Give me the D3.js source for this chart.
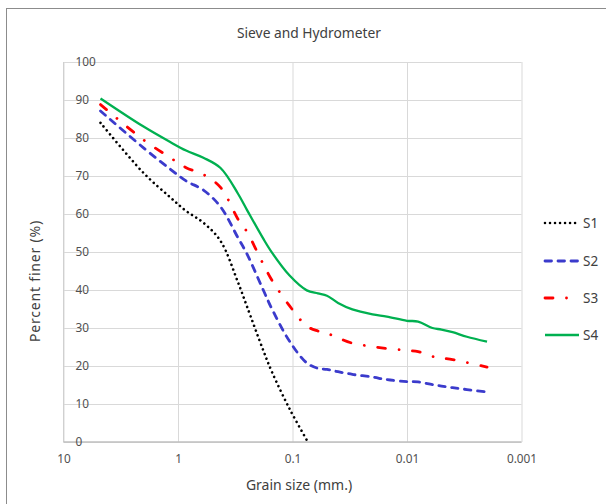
<!DOCTYPE html>
<html>
<head>
<meta charset="utf-8">
<script src="https://cdn.jsdelivr.net/npm/d3@7"></script>
<style>
  body { margin: 0; background: #fff; }
  svg { display: block; font-family: "Noto Sans", sans-serif; }
</style>
</head>
<body>
<svg width="606" height="504"></svg>
<script>
// grain sizes (mm)
const sieveSizes = [4.75, 2.0, 1.18, 0.85, 0.6, 0.425, 0.3, 0.25, 0.18, 0.15, 0.106, 0.075];
const hydroSizes = [0.06, 0.05, 0.04, 0.03, 0.02, 0.015, 0.01, 0.008, 0.006, 0.005, 0.004, 0.003, 0.002];

// percent finer
const s1 = [84.0, 70.8, 64.5, 60.8, 57.7, 52.9, 42.1, 35.7, 24.1, 18.2, 8.7, 0.5];
const s2 = [87.1, 77.4, 71.9, 68.7, 66.3, 61.9, 53.8, 49.5, 40.0, 34.8, 26.5, 20.8,
            19.4, 19.1, 18.5, 17.8, 17.1, 16.4, 15.9, 15.8, 15.1, 14.7, 14.3, 13.8, 13.2];
const s3 = [88.8, 79.5, 74.9, 72.2, 70.4, 67.0, 58.7, 55.3, 46.8, 42.4, 35.8, 30.5,
            29.2, 28.6, 27.4, 26.0, 25.1, 24.6, 24.1, 23.8, 22.5, 22.1, 21.7, 20.9, 19.7];
const s4 = [90.4, 83.0, 79.0, 76.7, 74.8, 72.1, 65.4, 61.1, 53.5, 49.7, 43.8, 39.9,
            39.1, 38.5, 36.6, 34.9, 33.6, 33.0, 31.9, 31.7, 30.0, 29.6, 28.9, 27.7, 26.4];

const seriesNames = ["S1", "S2", "S3", "S4"];
const xTicks = [10, 1, 0.1, 0.01, 0.001];
const xTickLabels = ["10", "1", "0.1", "0.01", "0.001"];
const yTicks = [0, 10, 20, 30, 40, 50, 60, 70, 80, 90, 100];

const svg = d3.select("svg");

// outer chart frame (cut off at right / bottom)
svg.append("rect")
    .attr("x", 6.5).attr("y", 8.5)
    .attr("width", 620).attr("height", 520)
    .attr("fill", "none")
    .attr("stroke", "#8c8c8c")
    .attr("stroke-width", 1);

const plotLeft = 63.5, plotRight = 521.5, plotTop = 62, plotBottom = 442;

let x = d3.scaleLog().domain([10, 0.001]).range([plotLeft, plotRight]);
let y = d3.scaleLinear().domain([0, 100]).range([plotBottom, plotTop]);

// gridlines
svg.append("g")
    .attr("class", "grid")
    .attr("transform", "translate(0," + plotBottom + ")")
    .call(d3.axisBottom(x).tickValues(xTicks).tickSize(-(plotBottom - plotTop)).tickFormat(""))
    .call(g => g.select(".domain").remove())
    .selectAll("line").attr("stroke", "#d9d9d9");

svg.append("g")
    .attr("class", "grid")
    .attr("transform", "translate(" + plotLeft + ",0)")
    .call(d3.axisLeft(y).tickValues(yTicks).tickSize(-(plotRight - plotLeft)).tickFormat(""))
    .call(g => g.select(".domain").remove())
    .selectAll("line").attr("stroke", "#d9d9d9");

// left axis line
svg.append("line")
    .attr("x1", plotLeft).attr("x2", plotLeft)
    .attr("y1", plotTop).attr("y2", plotBottom)
    .attr("stroke", "#d0d0d0");

// bottom axis line
svg.append("line")
    .attr("x1", plotLeft).attr("x2", plotRight)
    .attr("y1", plotBottom).attr("y2", plotBottom)
    .attr("stroke", "#bfbfbf")
    .attr("stroke-width", 1.5);

// x tick labels
svg.append("g")
    .attr("transform", "translate(0," + plotBottom + ")")
    .call(d3.axisBottom(x).tickValues(xTicks).tickSize(0).tickPadding(13)
        .tickFormat((d, i) => xTickLabels[i]))
    .call(g => g.select(".domain").remove())
    .selectAll("text")
    .attr("fill", "#505050")
    .style("font-size", "11.8px")
    .style("font-family", "'Noto Sans', sans-serif");

// y tick labels (sit inside the plot, left aligned)
svg.append("g")
    .attr("transform", "translate(" + plotLeft + ",0)")
    .call(d3.axisRight(y).tickValues(yTicks).tickSize(0).tickPadding(12))
    .call(g => g.select(".domain").remove())
    .selectAll("text")
    .attr("fill", "#505050")
    .style("font-size", "11.8px")
    .style("font-family", "'Noto Sans', sans-serif");

// series
const allSizes = sieveSizes.concat(hydroSizes);
const seriesData = [
    d3.zip(sieveSizes, s1),
    d3.zip(allSizes, s2),
    d3.zip(allSizes, s3),
    d3.zip(allSizes, s4)
];
const colors = ["#000000", "#3b3bcc", "#ff0000", "#00b050"];
const dashes = ["0.01 5", "6.5 6.5", "8 13.5 0.01 13.5", null];
const widths = [2.6, 2.8, 2.8, 2.3];

const line = d3.line()
    .x(d => x(d[0]))
    .y(d => y(d[1]))
    .curve(d3.curveCatmullRom);

svg.selectAll(".series")
    .data(seriesData)
    .enter().append("path")
    .attr("class", "series")
    .attr("fill", "none")
    .attr("d", line)
    .attr("stroke", (d, i) => colors[i])
    .attr("stroke-width", (d, i) => widths[i])
    .attr("stroke-dasharray", (d, i) => dashes[i])
    .attr("stroke-linecap", (d, i) => i === 3 ? "butt" : "round");

// legend
const legendY = [223, 261, 298, 335];
const legend = svg.selectAll(".legend")
    .data(seriesNames)
    .enter().append("g")
    .attr("class", "legend")
    .attr("transform", (d, i) => "translate(545," + legendY[i] + ")");

legend.append("line")
    .attr("x1", 0).attr("x2", 34)
    .attr("stroke", (d, i) => colors[i])
    .attr("stroke-width", (d, i) => widths[i])
    .attr("stroke-dasharray", (d, i) => dashes[i])
    .attr("stroke-linecap", (d, i) => i === 3 ? "butt" : "round");

legend.append("text")
    .attr("x", 38)
    .attr("dy", "0.35em")
    .attr("fill", "#404040")
    .style("font-size", "13.5px")
    .text(d => d);

// titles
svg.append("text")
    .attr("x", 309).attr("y", 38)
    .attr("text-anchor", "middle")
    .attr("fill", "#404040")
    .style("font-size", "13.8px")
    .text("Sieve and Hydrometer");

svg.append("text")
    .attr("x", 299).attr("y", 490)
    .attr("text-anchor", "middle")
    .attr("fill", "#404040")
    .style("font-size", "14px")
    .text("Grain size (mm.)");

svg.append("text")
    .attr("transform", "translate(40,281) rotate(-90)")
    .attr("text-anchor", "middle")
    .attr("fill", "#404040")
    .style("font-size", "14px")
    .style("letter-spacing", "0.8px")
    .text("Percent finer (%)");
</script>
</body>
</html>
